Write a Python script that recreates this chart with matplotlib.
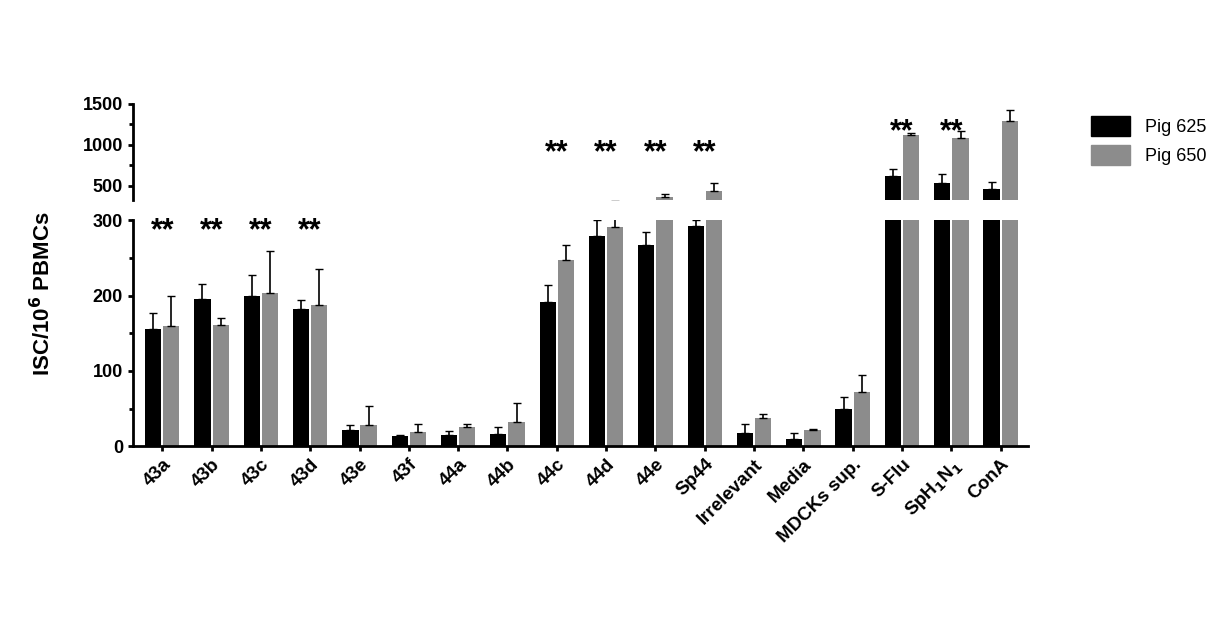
import numpy as np
import matplotlib.pyplot as plt
from matplotlib.patches import Patch

plt.rcParams["font.family"] = "Liberation Sans"
plt.rcParams["font.weight"] = "bold"

categories = ["43a", "43b", "43c", "43d", "43e", "43f", "44a", "44b", "44c", "44d", "44e", "Sp44",
              "Irrelevant", "Media", "MDCKs sup.", "S-Flu", "SpH$_1$N$_1$", "ConA"]
pig625 = [155, 196, 199, 182, 22, 14, 15, 16, 192, 279, 267, 292, 17, 10, 49, 622, 530, 460]
pig625_err = [22, 20, 28, 12, 6, 1, 5, 10, 22, 22, 18, 8, 12, 7, 16, 80, 110, 80]
pig650 = [159, 161, 204, 187, 28, 19, 25, 32, 247, 291, 366, 439, 37, 21, 72, 1112, 1080, 1290]
pig650_err = [40, 9, 55, 48, 25, 11, 4, 25, 20, 20, 30, 90, 6, 2, 22, 30, 80, 130]
stars_low = ["43a", "43b", "43c", "43d"]
stars_high = ["44c", "44d", "44e", "Sp44"]
stars_top = ["S-Flu", "SpH$_1$N$_1$"]

x = np.arange(len(categories))
w = 0.33
fig = plt.figure(figsize=(12.28, 6.24), dpi=100)
ax_lo = fig.add_axes([0.108, 0.285, 0.729, 0.362])
ax_hi = fig.add_axes([0.108, 0.679, 0.729, 0.155], sharex=ax_lo)

for ax in (ax_lo, ax_hi):
    ax.bar(x - w / 2 - 0.02, pig625, w, color="black", yerr=[np.zeros(len(x)), pig625_err],
           error_kw=dict(ecolor="black", capsize=3, lw=1.2))
    ax.bar(x + w / 2 + 0.02, pig650, w, color="#8c8c8c", yerr=[np.zeros(len(x)), pig650_err],
           error_kw=dict(ecolor="black", capsize=3, lw=1.2))
    for s in ("top", "right"):
        ax.spines[s].set_visible(False)
    ax.spines["left"].set_linewidth(2)
    ax.tick_params(axis="y", width=2, labelsize=13)
    ax.set_xlim(-0.6, len(x) - 0.45)

ax_lo.set_ylim(0, 300)
ax_lo.set_yticks([0, 100, 200, 300])
ax_lo.set_yticks(np.arange(0, 301, 50), minor=True)
ax_lo.tick_params(axis="y", which="minor", width=2, length=3)
ax_lo.spines["bottom"].set_linewidth(2)
ax_lo.set_xticks(x)
ax_lo.set_xticklabels(categories, rotation=45, ha="right", rotation_mode="anchor", fontsize=13.5)
ax_lo.tick_params(axis="x", width=2)

ax_hi.set_ylim(320, 1500)
ax_hi.set_yticks([500, 1000, 1500])
ax_hi.set_yticks([750, 1250], minor=True)
ax_hi.tick_params(axis="y", which="minor", width=2, length=3)
ax_hi.spines["bottom"].set_visible(False)
ax_hi.tick_params(axis="x", bottom=False, labelbottom=False)

for c in stars_low:
    ax_lo.text(categories.index(c), 286, "**", ha="center", va="center", fontsize=22)
for c in stars_high:
    ax_hi.text(categories.index(c), 900, "**", ha="center", va="center", fontsize=22)
for c in stars_top:
    ax_hi.text(categories.index(c), 1150, "**", ha="center", va="center", fontsize=22)

fig.text(0.035, 0.53, "ISC/10$^6$ PBMCs", rotation=90, ha="center", va="center", fontsize=16)
fig.legend(handles=[Patch(color="black", label="Pig 625"), Patch(color="#8c8c8c", label="Pig 650")],
           loc="upper left", bbox_to_anchor=(0.875, 0.84), frameon=False,
           handlelength=2.2, handleheight=1.3, prop={"weight": "normal", "size": 13})
fig.savefig("out.png", dpi=100)
